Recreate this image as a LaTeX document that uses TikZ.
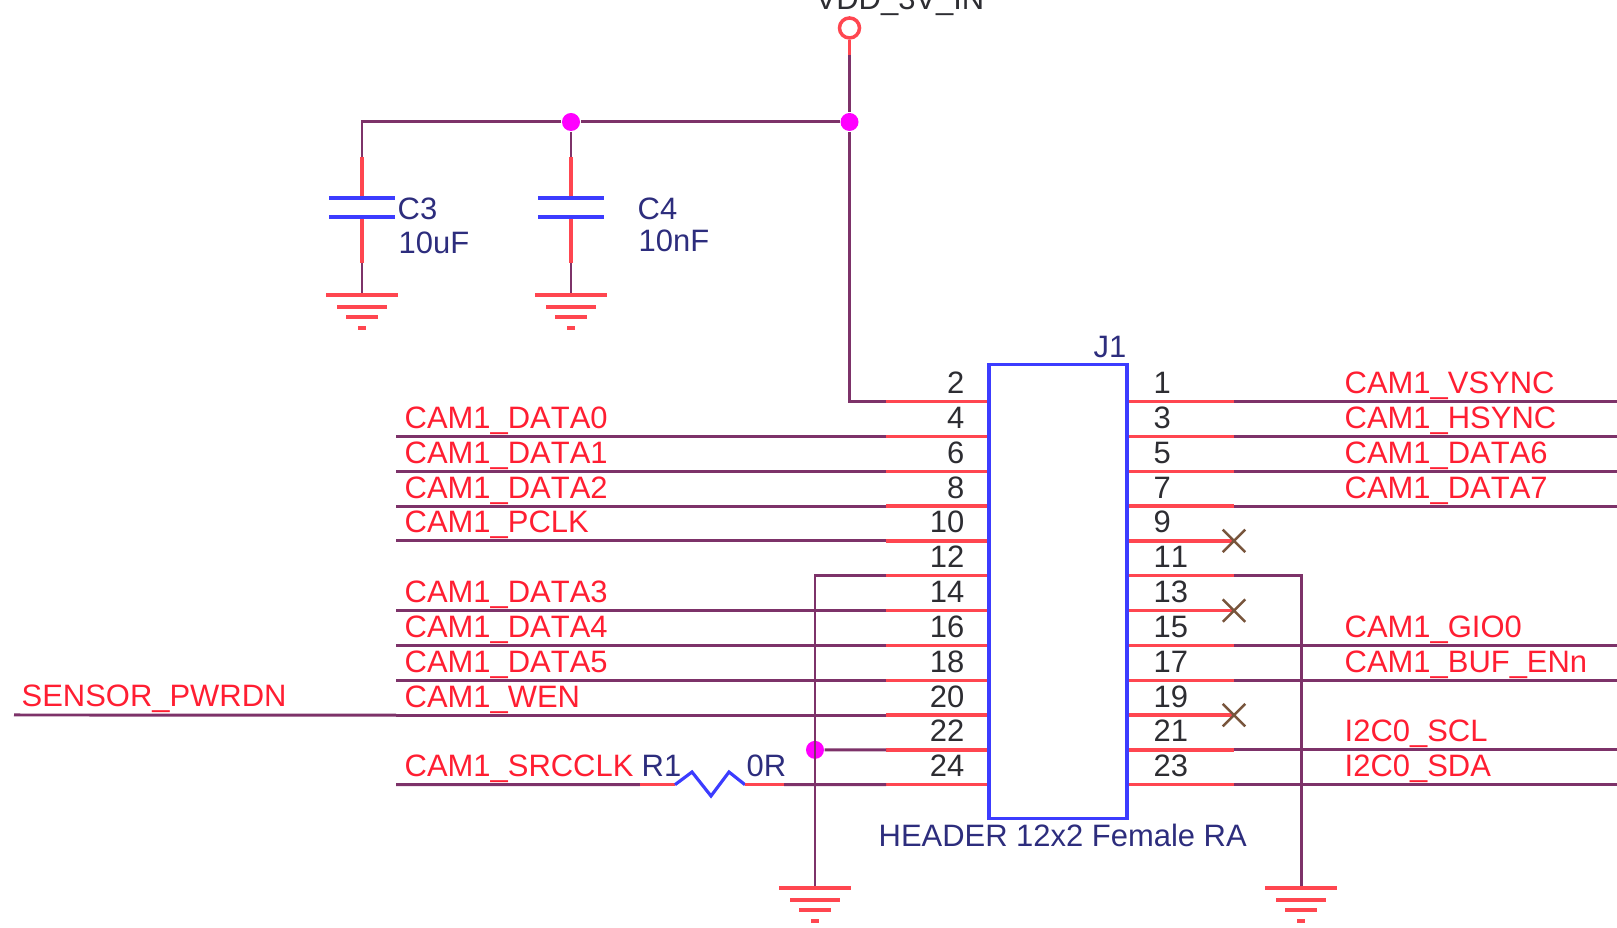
\documentclass[tikz,border=0pt]{standalone}
\usepackage{fontspec}
\setmainfont[Kerning=Off]{Liberation Sans}
\usetikzlibrary{shapes.misc}
\definecolor{wirecol}{RGB}{125,50,105}
\definecolor{pincol}{RGB}{255,70,80}
\definecolor{netcol}{RGB}{255,30,50}
\definecolor{partcol}{RGB}{45,45,125}
\definecolor{bodycol}{RGB}{60,60,255}
\definecolor{numcol}{RGB}{45,45,50}
\definecolor{nccol}{RGB}{120,85,60}
\definecolor{dotcol}{RGB}{255,0,255}
\newcommand*{\gndsym}[1]{\draw[gndbar,shift={(#1)}] (-36,0) -- (36,0) (-25,12) -- (25,12) (-16,22) -- (16,22) (-4,33) -- (4,33);}
\tikzset{
  wire/.style={draw=wirecol,line width=0.85pt},
  pinline/.style={draw=pincol,line width=0.95pt},
  gndbar/.style={draw=pincol,line width=1.2pt},
  partline/.style={draw=bodycol,line width=0.9pt},
  txt/.style={font=\fontsize{8.8}{10}\selectfont,inner sep=0pt},
  netname/.style={txt,text=netcol,anchor=base west},
  partname/.style={txt,text=partcol,anchor=base west},
  pinnum/.style={txt,text=numcol},
  junction/.style={circle,fill=dotcol,inner sep=0pt,minimum size=0.18cm},
  noconn/.style={cross out,draw=nccol,line width=0.7pt,inner sep=0pt,minimum size=0.2cm},
  header/.style={rectangle,draw=bodycol,line width=0.9pt,fill=white,minimum width=1.38cm,minimum height=4.53cm,inner sep=0pt}
}
\begin{document}
\begin{tikzpicture}[x=0.01cm,y=-0.01cm]
  \useasboundingbox (0,0) rectangle (1617,928);

  % supply and decoupling
  \node[circle,draw=pincol,line width=1pt,fill=white,inner sep=0pt,minimum size=0.2cm] (vdd) at (849.5,28) {};
  \node[txt,text=numcol,anchor=base] (vddname) at (900,10) {VDD\_3V\_IN};
  \node[junction] (dotV) at (849.5,122) {};
  \node[junction] (dotC) at (571,122) {};
  \coordinate (vddw) at (849.5,55);
  \draw[wire] (vddw) -- (dotV);
  \draw[pinline] (vdd) -- (vddw);

  \foreach \capnum/\xx in {3/362,4/571} {
    \coordinate (c\capnum a) at (\xx,157);
    \coordinate (c\capnum t) at (\xx,198);
    \coordinate (c\capnum b) at (\xx,217);
    \coordinate (c\capnum c) at (\xx,263);
    \coordinate (gc\capnum) at (\xx,295);
    \draw[pinline] (c\capnum a) -- (c\capnum t);
    \draw[pinline] (c\capnum b) -- (c\capnum c);
    \draw[wire] (c\capnum c) -- (gc\capnum);
    \draw[partline] (\xx-33,198) -- (\xx+33,198);
    \draw[partline] (\xx-33,217) -- (\xx+33,217);
    \gndsym{gc\capnum}
  }
  \draw[wire] (dotV) -- (dotC) -| (c3a);
  \draw[wire] (dotC) -- (c4a);
  \node[partname] (c3name) at (397,220) {C3};
  \node[partname] (c3val) at (398,254) {10uF};
  \node[partname] (c4name) at (637,220) {C4};
  \node[partname] (c4val) at (638,252) {10nF};

  % connector pins
  \foreach \num/\row in {2/0,4/1,6/2,8/3,10/4,12/5,14/6,16/7,18/8,20/9,22/10,24/11} {
    \pgfmathsetmacro{\yy}{401.5+34.84*\row}
    \coordinate (p\num) at (989,\yy);
    \coordinate (s\num) at (886,\yy);
    \coordinate (e\num) at (396,\yy);
    \draw[pinline] (p\num) -- (s\num);
    \node[pinnum,anchor=base east] (n\num) at (965,\yy-8) {\num};
  }
  \foreach \num/\row in {1/0,3/1,5/2,7/3,9/4,11/5,13/6,15/7,17/8,19/9,21/10,23/11} {
    \pgfmathsetmacro{\yy}{401.5+34.84*\row}
    \coordinate (p\num) at (1127,\yy);
    \coordinate (s\num) at (1234,\yy);
    \coordinate (e\num) at (1617,\yy);
    \draw[pinline] (p\num) -- (s\num);
    \node[pinnum,anchor=base west] (n\num) at (1153,\yy-8) {\num};
  }
  \node[header] (J1) at (1058,591.5) {};
  \node[partname] (j1name) at (1093,358) {J1};
  \node[partname] (j1val) at (878,846.5) {HEADER 12x2 Female RA};

  % nets
  \foreach \num/\net in {4/DATA0,6/DATA1,8/DATA2,10/PCLK,14/DATA3,16/DATA4,18/DATA5,20/WEN} {
    \draw[wire] (e\num) -- (s\num);
    \path (e\num) ++(8,-8) node[netname] (net\num) {CAM1\_\net};
  }
  \foreach \num/\net in {1/CAM1\_VSYNC,3/CAM1\_HSYNC,5/CAM1\_DATA6,7/CAM1\_DATA7,15/CAM1\_GIO0,17/CAM1\_BUF\_ENn,21/I2C0\_SCL,23/I2C0\_SDA} {
    \draw[wire] (s\num) -- (e\num);
    \path (s\num) ++(110,-8) node[netname] (net\num) {\net};
  }
  \coordinate (pwrdn) at (14,715);
  \draw[wire] (pwrdn) -- (e20);
  \node[netname] (pwrdnname) at (21,707) {SENSOR\_PWRDN};

  % grounded pins
  \coordinate (gndA) at (815,888);
  \coordinate (gndB) at (1301,888);
  \node[junction] (dot22) at (815,749.9) {};
  \draw[wire] (s12) -| (gndA);
  \draw[wire] (s22) -- (dot22);
  \draw[wire] (s11) -| (gndB);
  \gndsym{gndA}
  \gndsym{gndB}
  \draw[wire] (s2) -| (dotV);

  % R1
  \coordinate (r1w) at (640,784.7);
  \coordinate (r1a) at (675,784.7);
  \coordinate (r1b) at (745,784.7);
  \coordinate (r1e) at (784,784.7);
  \draw[wire] (e24) -- (r1w);
  \draw[pinline] (r1w) -- (r1a);
  \draw[partline] (r1a) -- (692,772) -- (711,796) -- (729,772) -- (r1b);
  \draw[pinline] (r1b) -- (r1e);
  \draw[wire] (r1e) -- (s24);
  \node[netname] (net24) at (404,776.7) {CAM1\_SRCCLK};
  \node[partname] (r1name) at (641,776.7) {R1};
  \node[partname] (r1val) at (746,776.7) {0R};

  % unconnected pins
  \foreach \num in {9,13,19} {
    \node[noconn] (x\num) at (s\num) {};
  }
\end{tikzpicture}
\end{document}
